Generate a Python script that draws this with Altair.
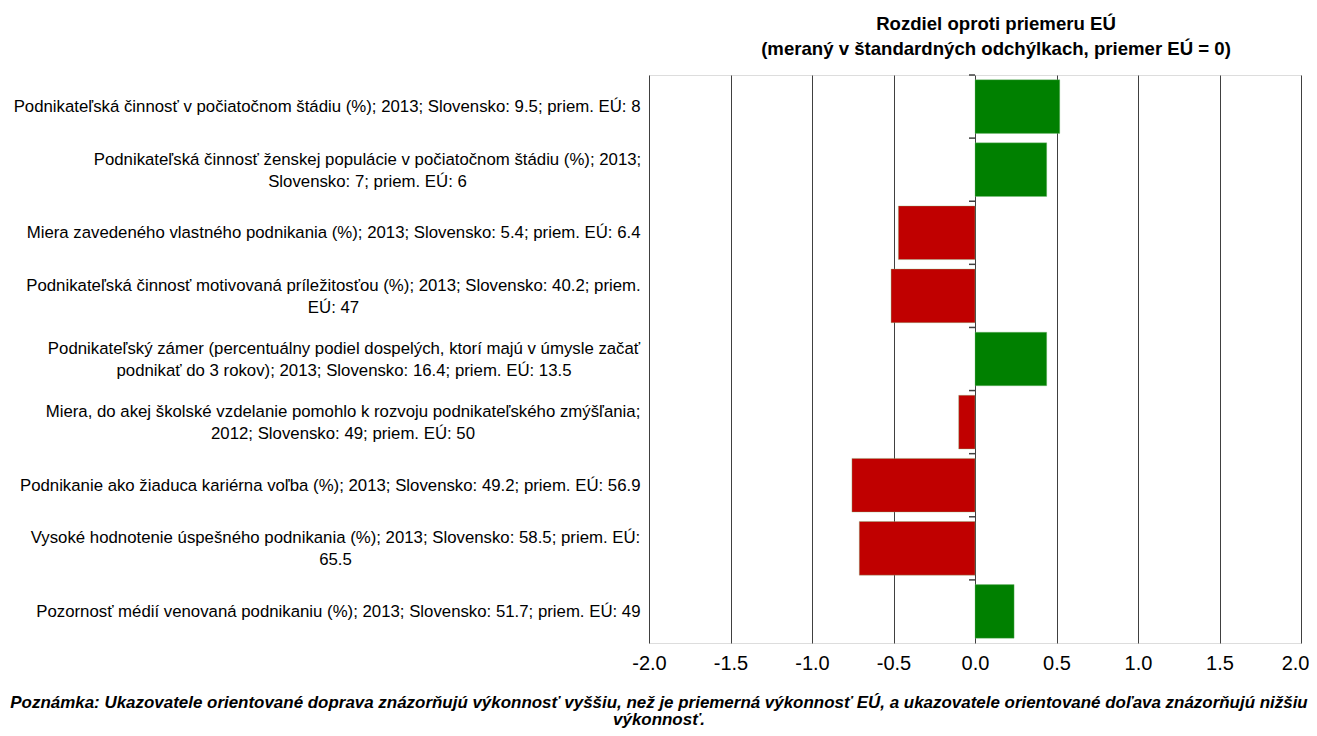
import altair as alt
import pandas as pd

labels = [
    "Podnikateľská činnosť v počiatočnom štádiu (%); 2013; Slovensko: 9.5; priem. EÚ: 8",
    "Podnikateľská činnosť ženskej populácie v počiatočnom štádiu (%); 2013;|Slovensko: 7; priem. EÚ: 6",
    "Miera zavedeného vlastného podnikania (%); 2013; Slovensko: 5.4; priem. EÚ: 6.4",
    "Podnikateľská činnosť motivovaná príležitosťou (%); 2013; Slovensko: 40.2; priem.|EÚ: 47",
    "Podnikateľský zámer (percentuálny podiel dospelých, ktorí majú v úmysle začať|podnikať do 3 rokov); 2013; Slovensko: 16.4; priem. EÚ: 13.5",
    "Miera, do akej školské vzdelanie pomohlo k rozvoju podnikateľského zmýšľania;|2012; Slovensko: 49; priem. EÚ: 50",
    "Podnikanie ako žiaduca kariérna voľba (%); 2013; Slovensko: 49.2; priem. EÚ: 56.9",
    "Vysoké hodnotenie úspešného podnikania (%); 2013; Slovensko: 58.5; priem. EÚ:|65.5",
    "Pozornosť médií venovaná podnikaniu (%); 2013; Slovensko: 51.7; priem. EÚ: 49",
]
values = [0.52, 0.44, -0.47, -0.515, 0.44, -0.10, -0.755, -0.71, 0.24]
x_ticks = [-2.0, -1.5, -1.0, -0.5, 0.0, 0.5, 1.0, 1.5, 2.0]

# half-widths (px) of the widest line of each two-line label, for centring the lines
label_half_widths = {1: 273, 3: 307, 4: 296.5, 5: 297.5, 7: 305}

title_lines = ["Rozdiel oproti priemeru EÚ", "(meraný v štandardných odchýlkach, priemer EÚ = 0)"]
note_lines = [
    "Poznámka: Ukazovatele orientované doprava znázorňujú výkonnosť vyššiu, než je priemerná výkonnosť EÚ, a ukazovatele orientované doľava znázorňujú nižšiu",
    "výkonnosť.",
]

df = pd.DataFrame({"cat": labels, "val": values})
df["pos"] = df["val"] >= 0

FONT = "Liberation Sans, Arial, Helvetica"
PAD = 9

pad_conditions = [
    {"test": "datum.value == '" + labels[i] + "'", "value": PAD + hw}
    for i, hw in label_half_widths.items()
]
multi_test = "indexof(datum.value, '|') >= 0"
last_tick_test = "datum.value >= 2"

yscale = alt.Scale(domain=labels, paddingInner=0.15, paddingOuter=0.075)
xscale = alt.Scale(domain=[-2, 2], nice=False, zero=False)

bars = alt.Chart(df).mark_bar(stroke="#7fbf7f", strokeWidth=0.6, strokeOpacity=0.6).encode(
    x=alt.X(
        "val:Q",
        scale=xscale,
        axis=alt.Axis(
            values=x_ticks,
            labelExpr="datum.value < 0 ? '-' + format(-datum.value, '.1f') : format(datum.value, '.1f')",
            labelFlush=False,
            labelAlign={"condition": {"test": last_tick_test, "value": "right"}, "value": "center"},
            labelOffset={"condition": {"test": last_tick_test, "value": 8}, "value": 0},
            grid=True,
            gridColor="#404040",
            gridWidth=1,
            ticks=False,
            domain=False,
            labelFontSize=20,
            labelFont=FONT,
            labelColor="black",
            labelPadding=10,
            title=note_lines,
            titleFont=FONT,
            titleFontSize=16.95,
            titleFontStyle="italic",
            titleFontWeight="bold",
            titleColor="black",
            titleLineHeight=17,
            titleX=9.5,
            titleAlign="center",
            titlePadding=21,
        ),
    ),
    x2=alt.datum(0),
    y=alt.Y(
        "cat:N",
        scale=yscale,
        sort=labels,
        axis=alt.Axis(
            title=None,
            ticks=False,
            domain=False,
            labelFont=FONT,
            labelFontSize=16.8,
            labelColor="black",
            labelAlign={"condition": {"test": multi_test, "value": "center"}, "value": "right"},
            labelPadding={"condition": pad_conditions, "value": PAD},
            labelOffset={"condition": {"test": multi_test, "value": -10}, "value": 0.5},
            labelLimit=0,
            labelLineHeight=22,
            labelExpr="split(datum.label, '|')",
        ),
    ),
    color=alt.Color(
        "pos:N",
        scale=alt.Scale(domain=[True, False], range=["#008000", "#c00000"]),
        legend=None,
    ),
)

ticks = alt.Chart(df).mark_rule(color="#404040", strokeWidth=1.5, yOffset=-31.55).encode(
    y=alt.Y("cat:N", scale=yscale, sort=labels),
    x=alt.datum(0),
    x2=alt.datum(-0.037),
)

chart = (
    alt.layer(bars, ticks)
    .properties(
        width=652,
        height=568,
        autosize=alt.AutoSizeParams(type="none"),
        padding={"left": 641, "top": 67, "right": 8, "bottom": 85},
        title=alt.TitleParams(
            text=title_lines,
            font=FONT,
            fontSize=18.6,
            fontWeight="bold",
            color="black",
            anchor="middle",
            dx=21,
            lineHeight=25,
            offset=16,
        ),
    )
    .configure_view(stroke="black", strokeWidth=1)
    .configure(background="white")
)

chart.save("out.html", embed_options={"renderer": "svg", "actions": False})
